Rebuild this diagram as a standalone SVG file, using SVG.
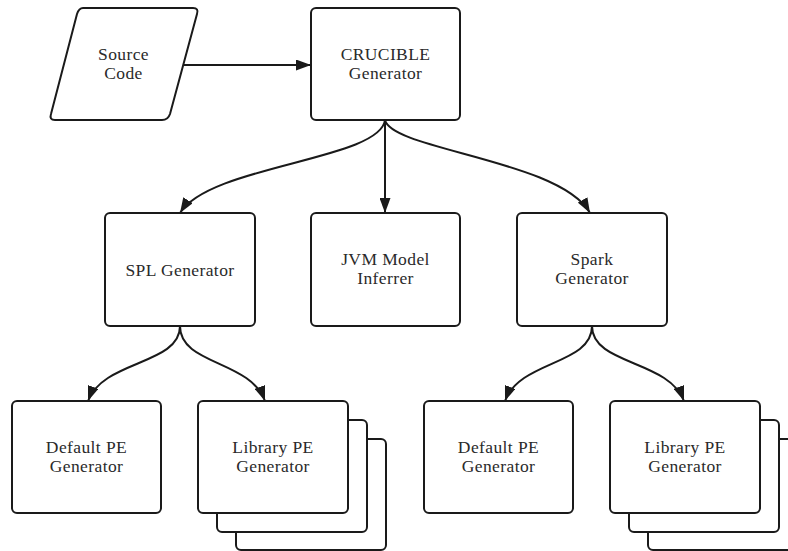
<svg xmlns="http://www.w3.org/2000/svg" width="788" height="551" viewBox="0 0 788 551">
<defs>
<style>
.n{fill:#fff;stroke:#1a1a1a;stroke-width:2}
.t{font-size:17.5px;letter-spacing:0.4px;fill:#2a2a2a;text-anchor:middle}
.e{fill:none;stroke:#1a1a1a;stroke-width:2}
</style>
<marker id="a" viewBox="0 0 15 11" refX="15" refY="5.5" markerWidth="15" markerHeight="11" markerUnits="userSpaceOnUse" orient="auto">
<path d="M0,0 L15,5.5 L0,11 z" fill="#1a1a1a"/>
</marker>
</defs>
<rect width="788" height="551" fill="#fff"/>
<g id="edges">
<path class="e" marker-end="url(#a)" d="M183,65 L311,65"/>
<path class="e" marker-end="url(#a)" d="M385,120 C380,160 210,165 180,213"/>
<path class="e" marker-end="url(#a)" d="M385,120 L385,213"/>
<path class="e" marker-end="url(#a)" d="M385,120 C392,150 560,160 590,213"/>
<path class="e" marker-end="url(#a)" d="M180,326 C180,365 103,360 88,401"/>
<path class="e" marker-end="url(#a)" d="M180,326 C180,365 250,360 265,401"/>
<path class="e" marker-end="url(#a)" d="M592,326 C592,365 520,360 505,401"/>
<path class="e" marker-end="url(#a)" d="M592,326 C592,365 669,360 684,401"/>
</g>
<g id="source" font-family="'Liberation Serif', serif">
<path class="n" d="M83,8 L193,8 Q199,8 197,14 L170,114 Q168,120 162,120 L55,120 Q49,120 51,114 L77,14 Q79,8 83,8 z"/>
<text class="t" x="123.5" y="60">Source</text>
<text class="t" x="123.5" y="79">Code</text>
</g>
<g id="crucible" font-family="'Liberation Serif', serif">
<rect class="n" x="311" y="8" width="149" height="112" rx="5"/>
<text class="t" x="385.5" y="60">CRUCIBLE</text>
<text class="t" x="385.5" y="79">Generator</text>
</g>
<g id="spl" font-family="'Liberation Serif', serif">
<rect class="n" x="105" y="213" width="150" height="113" rx="5"/>
<text class="t" x="180" y="276">SPL Generator</text>
</g>
<g id="jvm" font-family="'Liberation Serif', serif">
<rect class="n" x="311" y="213" width="149" height="113" rx="5"/>
<text class="t" x="385.5" y="265">JVM Model</text>
<text class="t" x="385.5" y="284">Inferrer</text>
</g>
<g id="spark" font-family="'Liberation Serif', serif">
<rect class="n" x="517" y="213" width="150" height="113" rx="5"/>
<text class="t" x="592" y="265">Spark</text>
<text class="t" x="592" y="284">Generator</text>
</g>
<g id="default1" font-family="'Liberation Serif', serif">
<rect class="n" x="12" y="401" width="149" height="112" rx="5"/>
<text class="t" x="86.5" y="453">Default PE</text>
<text class="t" x="86.5" y="472">Generator</text>
</g>
<g id="library1" font-family="'Liberation Serif', serif">
<rect class="n" x="236" y="439" width="150" height="111" rx="5"/>
<rect class="n" x="217" y="420" width="150" height="112" rx="5"/>
<rect class="n" x="198" y="401" width="150" height="112" rx="5"/>
<text class="t" x="273" y="453">Library PE</text>
<text class="t" x="273" y="472">Generator</text>
</g>
<g id="default2" font-family="'Liberation Serif', serif">
<rect class="n" x="424" y="401" width="149" height="112" rx="5"/>
<text class="t" x="498.5" y="453">Default PE</text>
<text class="t" x="498.5" y="472">Generator</text>
</g>
<g id="library2" font-family="'Liberation Serif', serif">
<rect class="n" x="648" y="439" width="150" height="111" rx="5"/>
<rect class="n" x="629" y="420" width="150" height="112" rx="5"/>
<rect class="n" x="610" y="401" width="150" height="112" rx="5"/>
<text class="t" x="685" y="453">Library PE</text>
<text class="t" x="685" y="472">Generator</text>
</g>
</svg>
